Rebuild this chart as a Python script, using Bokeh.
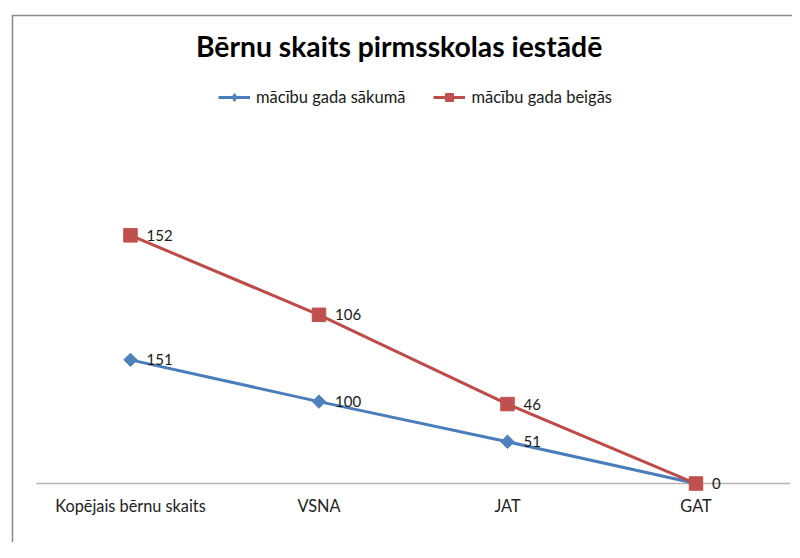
from bokeh.plotting import figure
from bokeh.models import Legend, LegendItem, Label, Spacer
from bokeh.layouts import column, row
from bokeh.embed import file_html
from bokeh.resources import INLINE
from bokeh.core.properties import value

# ---- data ----
categories = ["Kopējais bērnu skaits", "VSNA", "JAT", "GAT"]
start_vals = [151, 100, 51, 0]      # mācību gada sākumā
end_vals = [152, 106, 46, 0]        # mācību gada beigās
series_names = ["mācību gada sākumā", "mācību gada beigās"]
title_text = "Bērnu skaits pirmsskolas  iestādē"

# stacked line chart (second series stacked on the first)
x = list(range(len(categories)))
stacked_end = [a + b for a, b in zip(start_vals, end_vals)]

FONT = "Lato"
BLUE_LINE, BLUE_MARK = "#4A7EBB", "#4F81BD"
RED_LINE, RED_MARK = "#BE4B48", "#C0504D"

FW, FH = 781, 528
p = figure(width=FW, height=FH,
           x_range=(-0.6207, 3.512), y_range=(-72.0, 570.2),
           x_axis_type=None, y_axis_type=None,
           toolbar_location=None, output_backend="svg",
           min_border_left=2, min_border_top=2,
           min_border_right=0, min_border_bottom=0,
           border_fill_color="#8a8a8a", background_fill_color="white",
           outline_line_color=None)

# category axis line
p.segment(x0=[-0.5], y0=[0], x1=[len(categories) - 0.5], y1=[0],
          line_color="#b4b4b4", line_width=1.5)

# series
bl = p.line(x, start_vals, line_color=BLUE_LINE, line_width=3)
bm = p.scatter(x, start_vals, marker="square", angle=0.785, size=9.5,
               fill_color=BLUE_MARK, line_color=BLUE_MARK)
rl = p.line(x, stacked_end, line_color=RED_LINE, line_width=3)
rm = p.scatter(x, stacked_end, marker="square", size=13.5,
               fill_color=RED_MARK, line_color=RED_MARK)

# legend-only marker glyphs (not drawn in the plot area)
nan = float("nan")
bleg = p.scatter(x=[nan], y=[nan], marker="diamond", size=13,
                 fill_color=BLUE_MARK, line_color=BLUE_MARK)
rleg = p.scatter(x=[nan], y=[nan], marker="square", size=10,
                 fill_color=RED_MARK, line_color=RED_MARK)

# data labels (blue label hidden where it coincides with the red one)
blue_idx = [i for i in x if stacked_end[i] != start_vals[i]]
p.text(x=blue_idx, y=[start_vals[i] for i in blue_idx],
       text=[str(start_vals[i]) for i in blue_idx],
       x_offset=16, text_align="left", text_baseline="middle",
       text_font=value(FONT), text_font_size="15px", text_color="#1a1a1a")
p.text(x=x, y=stacked_end, text=[str(v) for v in end_vals],
       x_offset=16, text_align="left", text_baseline="middle",
       text_font=value(FONT), text_font_size="15px", text_color="#1a1a1a")

# category labels
p.text(x=x, y=[0] * len(x), text=categories, y_offset=22,
       text_align="center", text_baseline="middle",
       text_font=value(FONT), text_font_size="16.3px", text_color="#222222")

# title (screen units relative to frame bottom-left)
p.add_layout(Label(x=389, y=497, x_units="screen", y_units="screen",
                   text=title_text, text_align="center", text_baseline="middle",
                   text_font=FONT, text_font_size="28.3px", text_font_style="bold",
                   text_color="#000000"))

legend = Legend(items=[LegendItem(label=series_names[0], renderers=[bl, bleg]),
                       LegendItem(label=series_names[1], renderers=[rl, rleg])],
                location=(205, 435), orientation="horizontal",
                padding=0, margin=0, spacing=28, glyph_width=32,
                label_standoff=6, border_line_color=None,
                background_fill_alpha=0,
                label_text_font=FONT, label_text_font_size="16.5px",
                label_text_color="#1a1a1a")
p.add_layout(legend, "center")

layout = column(Spacer(height=14), row(Spacer(width=11), p))

with open("out.html", "w") as f:
    f.write(file_html(layout, INLINE))
